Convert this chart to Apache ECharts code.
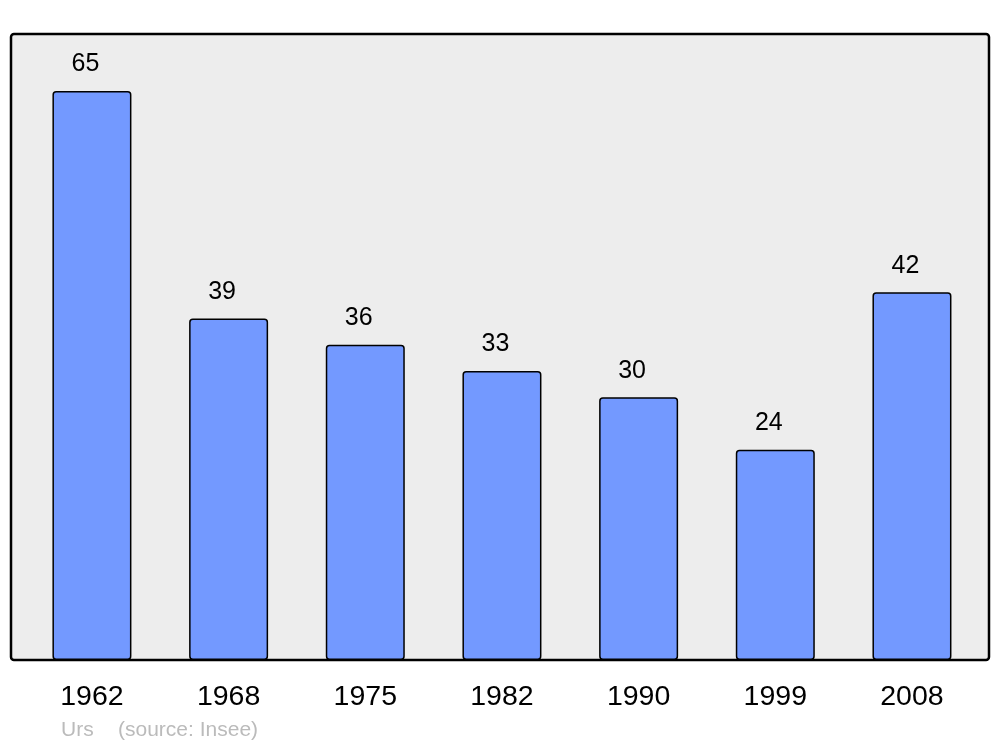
<!DOCTYPE html>
<html>
<head>
<meta charset="utf-8">
<script src="https://cdn.jsdelivr.net/npm/echarts@6/dist/echarts.min.js"></script>
<style>html,body{margin:0;padding:0;background:#fff}#c{width:1000px;height:747px}</style>
</head>
<body>
<div id="c"></div>
<script>
const years = ['1962', '1968', '1975', '1982', '1990', '1999', '2008'];
const population = [65, 39, 36, 33, 30, 24, 42];
const placeName = 'Urs';
const sourceText = '(source: Insee)';

const chart = echarts.init(document.getElementById('c'), null, {renderer: 'canvas'});
chart.setOption({
  animation: false,
  backgroundColor: '#ffffff',
  grid: {left: 23.6, right: 19.7, top: 34, bottom: 87},
  xAxis: {
    type: 'category',
    data: years,
    axisLine: {show: false},
    axisTick: {show: false},
    splitLine: {show: false},
    axisLabel: {
      color: '#000', fontSize: 28.5, fontFamily: 'Liberation Sans, Arial, sans-serif',
      margin: 22.5, lineHeight: 30, interval: 0
    }
  },
  yAxis: {
    type: 'value', min: 0, max: 71.5, show: false,
    splitLine: {show: false}
  },
  graphic: [
    {type: 'rect', z: -10, shape: {x: 11, y: 34, width: 978, height: 626, r: 3},
     style: {fill: '#ededed', stroke: '#000', lineWidth: 2.5}},
    {type: 'text', x: 61, y: 730, style: {text: placeName, fill: '#bbbbbb', fontSize: 21,
      fontFamily: 'Liberation Sans, Arial, sans-serif', verticalAlign: 'middle'}},
    {type: 'text', x: 118, y: 730, style: {text: sourceText, fill: '#bbbbbb', fontSize: 21,
      fontFamily: 'Liberation Sans, Arial, sans-serif', verticalAlign: 'middle'}}
  ],
  series: [{
    type: 'bar',
    data: population,
    barWidth: 79,
    itemStyle: {color: '#7399ff', borderColor: '#000', borderWidth: 1.5, borderRadius: 3},
    label: {
      show: true, position: 'top', distance: 14, offset: [-6.5, 0], color: '#000', fontSize: 25,
      fontFamily: 'Liberation Sans, Arial, sans-serif'
    }
  }]
});
</script>
</body>
</html>
